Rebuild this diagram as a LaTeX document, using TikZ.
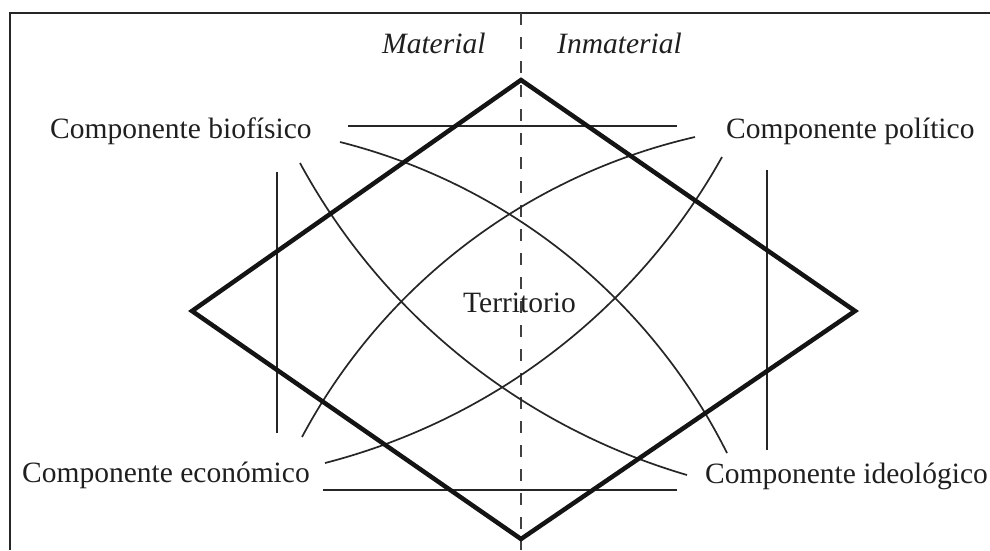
\documentclass[tikz,border=0pt]{standalone}
\usepackage{fontspec}
\setmainfont{Liberation Serif}
\begin{document}
\begin{tikzpicture}[x=1pt,y=-1pt,
  thinline/.style={line width=1.7pt, draw=black!85},
  framebox/.style={line width=2.6pt, draw=black!85},
  rombo/.style={line width=4.5pt, draw=black!92, line join=miter},
  lbl/.style={anchor=base west, inner sep=0pt, font=\fontsize{29.5}{34}\selectfont, text=black!88},
  ital/.style={lbl, font=\fontsize{29.5}{34}\selectfont\itshape},
  eje/.style={line width=1.4pt, draw=black!75, dash pattern=on 12pt off 12pt}]
\useasboundingbox (0,0) rectangle (990,550);
% frame
\draw[framebox] (10,550) -- (10,13) -- (990,13);
% axis
\coordinate (axtop) at (521,13);
\coordinate (axbot) at (521,550);
\draw[eje] (axtop) -- (axbot);
% straight lines
\coordinate (h1a) at (348,126); \coordinate (h1b) at (677,126);
\coordinate (h2a) at (323,490); \coordinate (h2b) at (677,490);
\coordinate (v1a) at (277,172); \coordinate (v1b) at (277,433);
\coordinate (v2a) at (767,170); \coordinate (v2b) at (767,450);
\draw[thinline] (h1a) -- (h1b);
\draw[thinline] (h2a) -- (h2b);
\draw[thinline] (v1a) -- (v1b);
\draw[thinline] (v2a) -- (v2b);
% arcs
\coordinate (a1) at (340,142); \coordinate (a2) at (727,453);
\coordinate (b1) at (300,163); \coordinate (b2) at (687,475);
\coordinate (c1) at (325,463); \coordinate (c2) at (722,157);
\coordinate (d1) at (302,437); \coordinate (d2) at (695,137);
\draw[thinline] (a1) .. controls (508,184.5) and (649.4,298.1) .. (a2);
\draw[thinline] (b1) .. controls (382.1,314.3) and (521.8,426.6) .. (b2);
\draw[thinline] (c1) .. controls (493.6,419.6) and (637.1,309) .. (c2);
\draw[thinline] (d1) .. controls (383.2,284.9) and (526.8,175.5) .. (d2);
% diamond
\coordinate (T) at (521,80);
\coordinate (R) at (855,311);
\coordinate (B) at (521,539);
\coordinate (L) at (192,311);
\draw[rombo] (T) -- (R) -- (B) -- (L) -- cycle;
% labels
\node[ital] (mat) at (382,53) {Material};
\node[ital] (inm) at (557,53) {Inmaterial};
\node[lbl] (bio) at (50,138) {Componente biofísico};
\node[lbl] (pol) at (726,138) {Componente político};
\node[lbl] (eco) at (22,482) {Componente económico};
\node[lbl] (ide) at (705,483) {Componente ideológico};
\node[lbl] (ter) at (463,312) {Territorio};
\end{tikzpicture}
\end{document}
